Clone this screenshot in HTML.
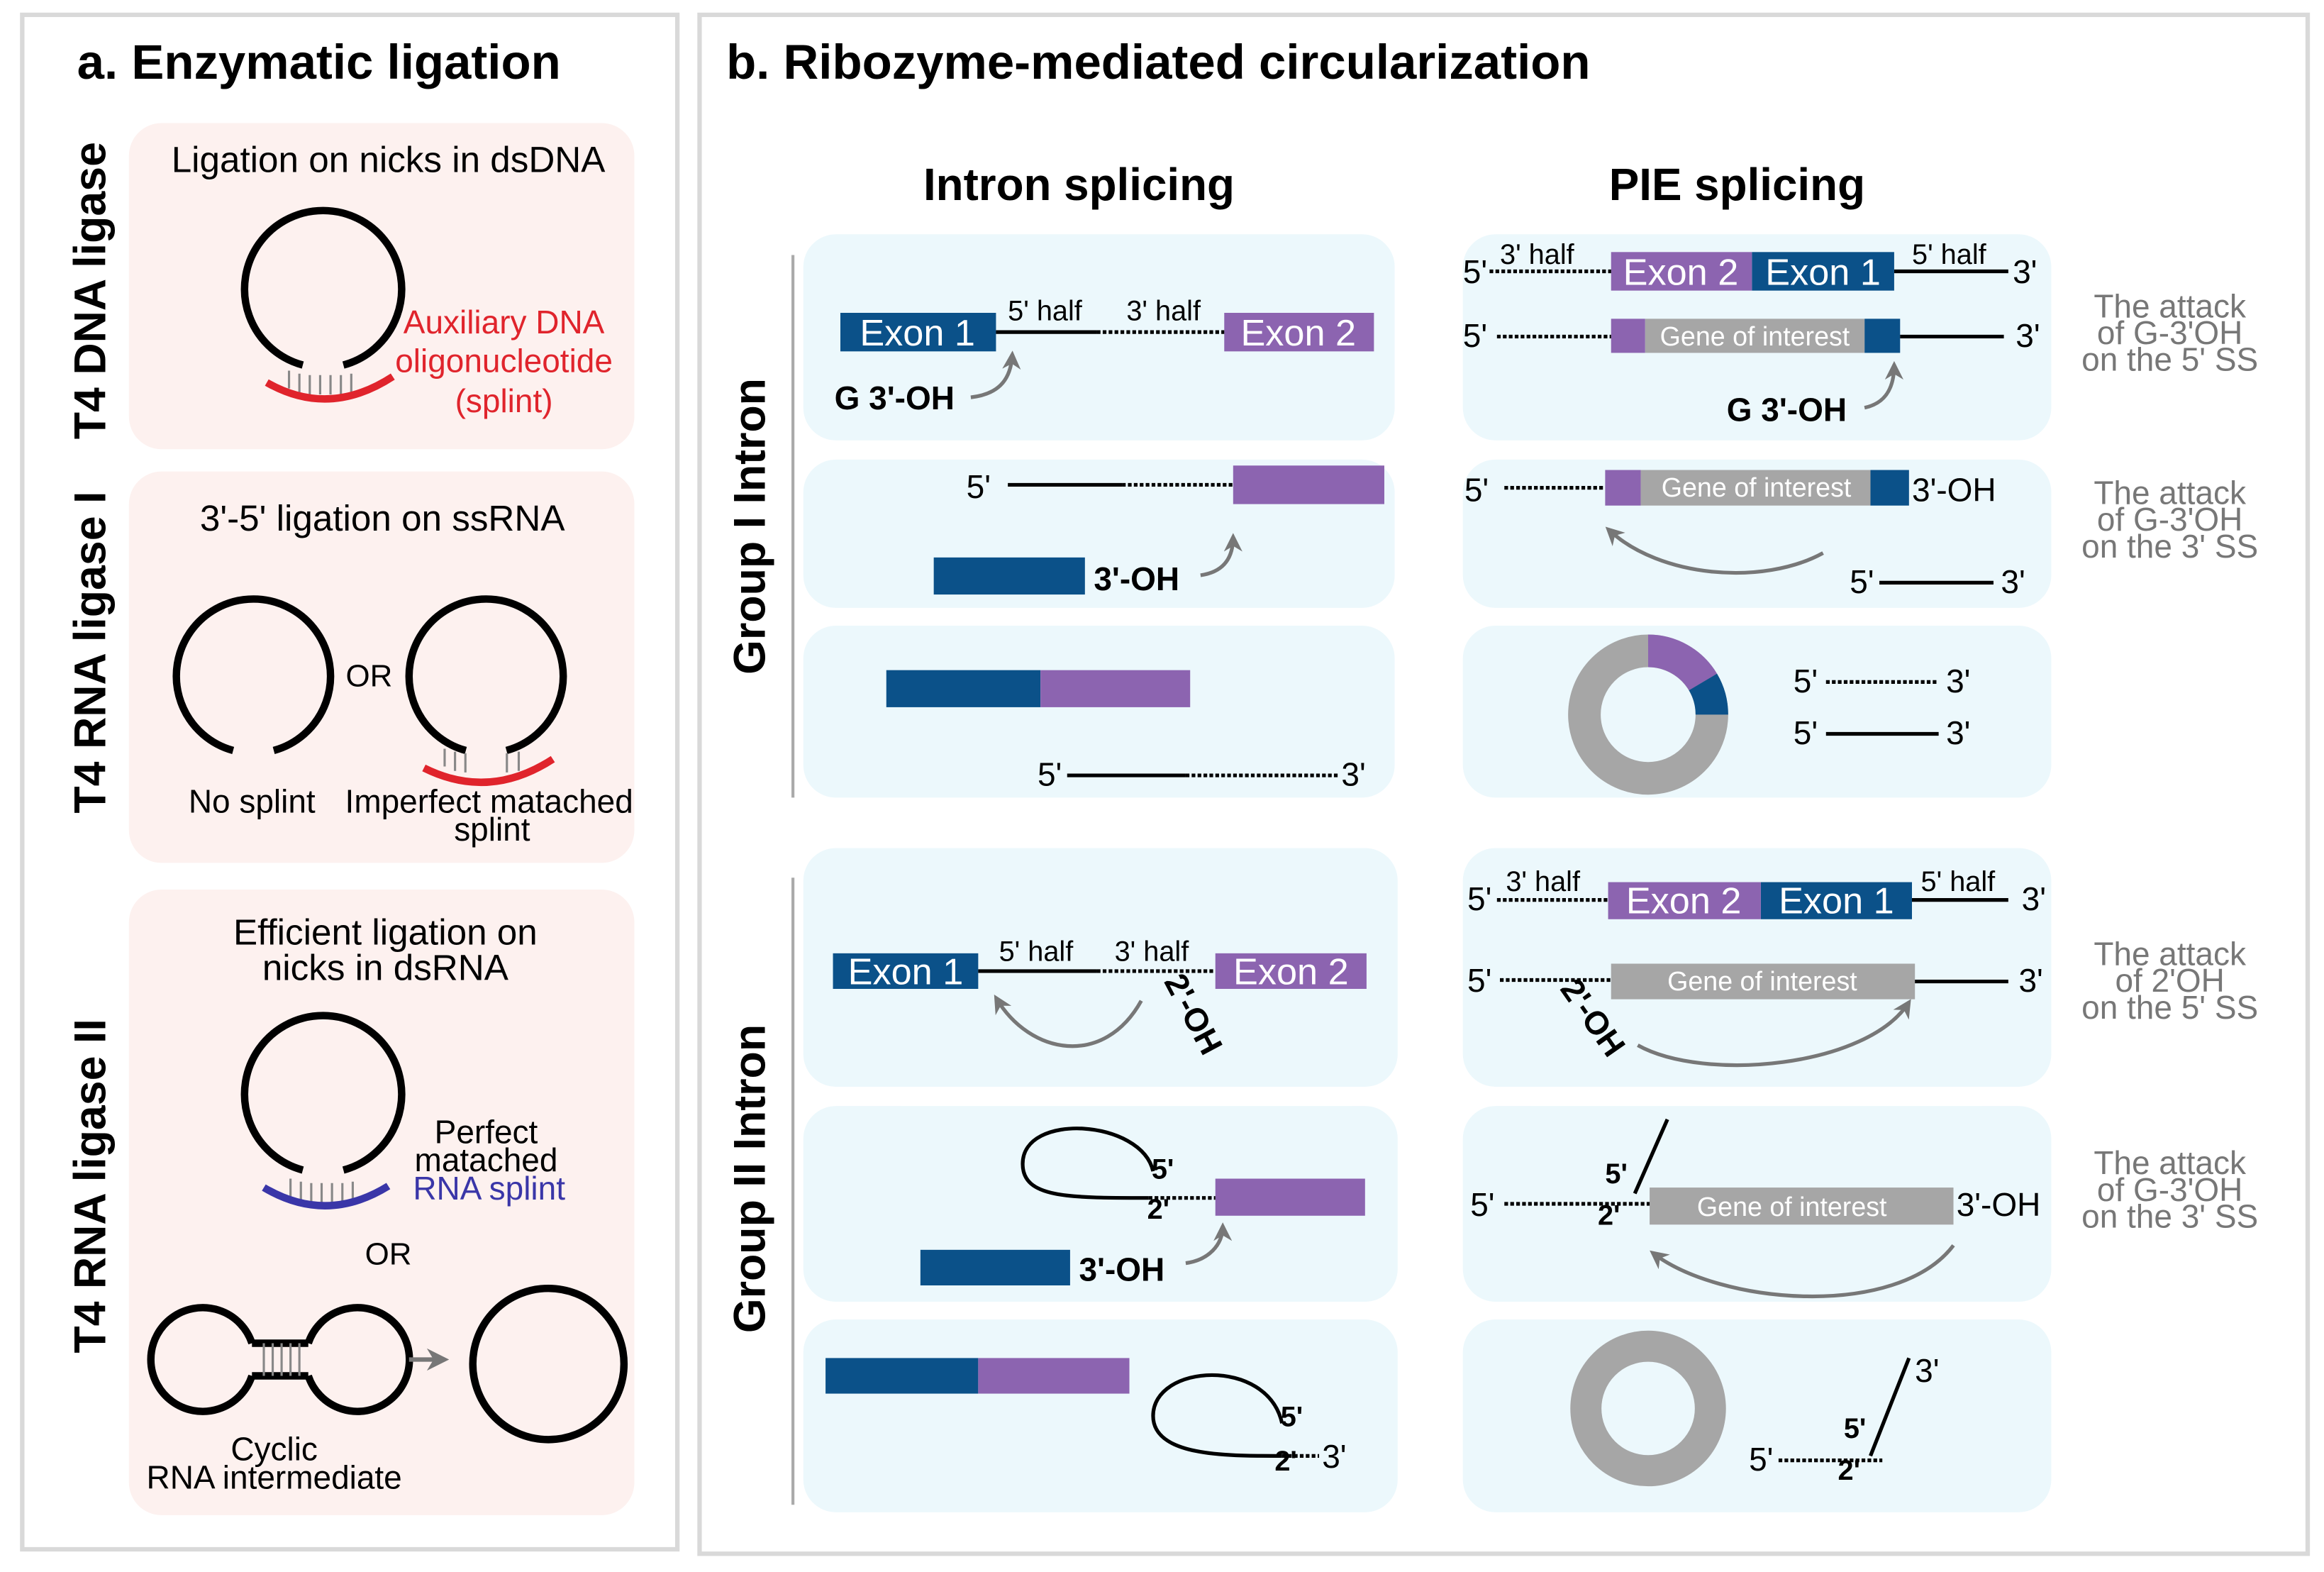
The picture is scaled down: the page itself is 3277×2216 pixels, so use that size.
<!DOCTYPE html>
<html><head><meta charset="utf-8"><style>
html,body{margin:0;padding:0;background:#fff}
svg{display:block}
text{font-family:"Liberation Sans",sans-serif}
</style></head><body>
<svg width="3277" height="2216" viewBox="0 0 1568 1060.3" xmlns="http://www.w3.org/2000/svg">
<defs>
<marker id="ah" viewBox="0 0 10 10" refX="8" refY="5" markerWidth="5" markerHeight="5" orient="auto-start-reverse"><path d="M0,0 L10,5 L0,10 L3,5 Z" fill="#777"/></marker>
</defs>
<rect width="1568" height="1061" fill="#fff"/>
<rect x="15" y="10" width="442" height="1035" fill="none" stroke="#d9d9d9" stroke-width="3"/>
<rect x="472" y="10" width="1085" height="1038" fill="none" stroke="#d9d9d9" stroke-width="3"/>
<text x="52" y="53" font-size="33" font-weight="bold">a. Enzymatic ligation</text>
<text x="490" y="53" font-size="33" font-weight="bold">b. Ribozyme-mediated circularization</text>

<g fill="#fdf1ef">
<rect x="87" y="83" width="341" height="220" rx="22"/>
<rect x="87" y="318" width="341" height="264" rx="22"/>
<rect x="87" y="600" width="341" height="422" rx="22"/>
</g>
<g font-size="30" font-weight="bold" text-anchor="middle">
<text transform="translate(71,196) rotate(-90)">T4 DNA ligase</text>
<text transform="translate(71,440) rotate(-90)">T4 RNA ligase I</text>
<text transform="translate(71,800) rotate(-90)">T4 RNA ligase II</text>
</g>
<g font-size="24.5" text-anchor="middle">
<text x="262" y="116">Ligation on nicks in dsDNA</text>
<text x="258" y="358">3'-5' ligation on ssRNA</text>
<text x="260" y="637">Efficient ligation on</text>
<text x="260" y="661">nicks in dsRNA</text>
<text x="170" y="548" font-size="22">No splint</text>
<text x="330" y="548" font-size="22">Imperfect matached</text>
<text x="332" y="567" font-size="22">splint</text>
<text x="249" y="463" font-size="21">OR</text>
<text x="262" y="853" font-size="21">OR</text>
<text x="328" y="771" font-size="22">Perfect</text>
<text x="328" y="790" font-size="22">matached</text>
<text x="330" y="809" font-size="22" fill="#3a36a8">RNA splint</text>
<text x="185" y="985" font-size="22">Cyclic</text>
<text x="185" y="1004" font-size="22">RNA intermediate</text>
<g fill="#e0242c" font-size="22"><text x="340" y="225">Auxiliary DNA</text><text x="340" y="251">oligonucleotide</text><text x="340" y="278">(splint)</text></g>
</g>
<g fill="none" stroke="#000" stroke-width="5">
<path d="M204.3,246.2 A53,53 0 1,1 231.7,246.2"/>
<path d="M157.3,506.2 A52,52 0 1,1 184.7,506.2"/>
<path d="M314.3,506.2 A52,52 0 1,1 341.7,506.2"/>
<path d="M204.3,789.2 A53,53 0 1,1 231.7,789.2"/>
<circle cx="370" cy="920" r="51"/>
<path d="M170,906 A35,35 0 1,0 170,928 M170,906 L208,906 M170,928 L208,928 M208,906 A35,35 0 1,1 208,928"/>
</g>
<g stroke="#888" stroke-width="1.5">
<path d="M195,250v12M202,252v13M209,253v13M216,253v13M223,253v13M230,253v13M237,252v13"/>
<path d="M300,505v12M307,507v13M314,508v13M342,508v13M350,507v13"/>
<path d="M196,795v12M203,797v13M210,798v13M217,798v13M224,798v13M231,798v13M238,797v13"/>
<path d="M178,906v22M184,906v22M190,906v22M196,906v22M202,906v22"/>
</g>
<path d="M180,258 Q222,282 265,254" fill="none" stroke="#e0242c" stroke-width="5"/>
<path d="M286,518 Q330,540 373,512" fill="none" stroke="#e0242c" stroke-width="5"/>
<path d="M178,801 Q220,826 262,800" fill="none" stroke="#3a36a8" stroke-width="5"/>
<path d="M276,917 L300,917" stroke="#777" stroke-width="3" marker-end="url(#ah)"/>

<text x="728" y="135" font-size="30.5" font-weight="bold" text-anchor="middle">Intron splicing</text>
<text x="1172" y="135" font-size="30.5" font-weight="bold" text-anchor="middle">PIE splicing</text>
<path d="M535,172V538M535,592V1015" stroke="#aaa" stroke-width="2"/>
<g font-size="30" font-weight="bold" text-anchor="middle">
<text transform="translate(516,355) rotate(-90)">Group I Intron</text>
<text transform="translate(516,795) rotate(-90)">Group II Intron</text>
</g>
<g fill="#ecf8fc">
<rect x="542" y="158" width="399" height="139" rx="22"/><rect x="987" y="158" width="397" height="139" rx="22"/>
<rect x="542" y="310" width="399" height="100" rx="22"/><rect x="987" y="310" width="397" height="100" rx="22"/>
<rect x="542" y="422" width="399" height="116" rx="22"/><rect x="987" y="422" width="397" height="116" rx="22"/>
<rect x="542" y="572" width="401" height="161" rx="22"/><rect x="987" y="572" width="397" height="161" rx="22"/>
<rect x="542" y="746" width="401" height="132" rx="22"/><rect x="987" y="746" width="397" height="132" rx="22"/>
<rect x="542" y="890" width="401" height="130" rx="22"/><rect x="987" y="890" width="397" height="130" rx="22"/>
</g>
<g font-size="22" fill="#777" text-anchor="middle">
<text x="1464" y="214">The attack</text><text x="1464" y="232">of G-3'OH</text><text x="1464" y="250">on the 5' SS</text>
<text x="1464" y="340">The attack</text><text x="1464" y="358">of G-3'OH</text><text x="1464" y="376">on the 3' SS</text>
<text x="1464" y="651">The attack</text><text x="1464" y="669">of 2'OH</text><text x="1464" y="687">on the 5' SS</text>
<text x="1464" y="792">The attack</text><text x="1464" y="810">of G-3'OH</text><text x="1464" y="828">on the 3' SS</text>
</g>

<g fill="#0b5189">
<rect x="567" y="211" width="105" height="26"/><rect x="1182" y="170" width="96" height="26"/><rect x="1258" y="215" width="24" height="23"/>
<rect x="630" y="376" width="102" height="25"/><rect x="1262" y="317" width="26" height="24"/>
<rect x="598" y="452" width="104" height="25"/>
<rect x="562" y="643" width="98" height="24"/><rect x="1188" y="595" width="102" height="25"/>
<rect x="621" y="843" width="101" height="24"/>
<rect x="557" y="916" width="103" height="24"/>
</g>
<g fill="#8c64b0">
<rect x="826" y="211" width="101" height="26"/><rect x="1087" y="170" width="95" height="26"/><rect x="1087" y="215" width="23" height="23"/>
<rect x="832" y="314" width="102" height="26"/><rect x="1083" y="317" width="24" height="24"/>
<rect x="702" y="452" width="101" height="25"/>
<rect x="820" y="643" width="102" height="24"/><rect x="1085" y="595" width="103" height="25"/>
<rect x="820" y="795" width="101" height="25"/>
<rect x="660" y="916" width="102" height="24"/>
</g>
<g fill="#a6a6a6">
<rect x="1110" y="215" width="148" height="23"/><rect x="1107" y="317" width="155" height="24"/>
<rect x="1087" y="650" width="205" height="24"/><rect x="1113" y="801" width="205" height="25"/>
</g>
<g fill="#fff" font-size="25" text-anchor="middle">
<text x="619" y="233">Exon 1</text><text x="876" y="233">Exon 2</text>
<text x="1134" y="192">Exon 2</text><text x="1230" y="192">Exon 1</text>
<text x="611" y="664">Exon 1</text><text x="871" y="664">Exon 2</text>
<text x="1136" y="616">Exon 2</text><text x="1239" y="616">Exon 1</text>
</g>
<g fill="#fff" font-size="18" text-anchor="middle">
<text x="1184" y="233">Gene of interest</text><text x="1185" y="335">Gene of interest</text>
<text x="1189" y="668">Gene of interest</text><text x="1209" y="820">Gene of interest</text>
</g>

<g stroke="#000" stroke-width="2.5" fill="none">
<path d="M672,224H740M1278,183H1355M1282,227H1352M680,327H757M1268,393H1345M720,523H800M1232,495H1308M660,655H740M1290,607H1355M1292,662H1355"/>
<path d="M778,790 C770,755 690,750 690,785 C690,808 720,808 775,808"/>
<path d="M865,960 C855,915 778,920 778,955 C778,983 830,982 865,982"/>
<path d="M1103,805 L1125,755M1262,982 L1288,916"/>
</g>
<g stroke="#000" stroke-width="2.5" stroke-dasharray="2.5,1.5" fill="none">
<path d="M740,224H826M1005,183H1087M1010,227H1087M757,327H832M1015,329H1083M800,523H903M1232,460H1308M740,655H820M1010,607H1085M1012,661H1087M775,808H820M1015,812H1113M865,982H890M1200,985H1270"/>
</g>
<circle cx="1112" cy="482" r="43" fill="none" stroke="#a6a6a6" stroke-width="22"/>
<path d="M1112,439 A43,43 0 0,1 1149,460" fill="none" stroke="#8c64b0" stroke-width="22"/>
<path d="M1149,460 A43,43 0 0,1 1155,482" fill="none" stroke="#0b5189" stroke-width="22"/>
<circle cx="1112" cy="950" r="42" fill="none" stroke="#a6a6a6" stroke-width="21"/>

<g stroke="#777" stroke-width="2.5" fill="none" marker-end="url(#ah)">
<path d="M655,268 C672,266 682,258 683,239"/>
<path d="M1258,275 C1272,272 1278,262 1278,246"/>
<path d="M810,388 C824,386 832,378 832,362"/>
<path d="M1230,373 C1190,395 1120,390 1085,357"/>
<path d="M770,675 C745,720 695,712 672,673"/>
<path d="M1105,705 C1150,730 1260,720 1288,676"/>
<path d="M800,852 C815,850 825,840 825,827"/>
<path d="M1318,840 C1280,890 1160,880 1115,845"/>
</g>

<g font-size="19">
<text x="680" y="216">5' half</text><text x="760" y="216">3' half</text>
<text x="1012" y="178">3' half</text><text x="1290" y="178">5' half</text>
<text x="674" y="648">5' half</text><text x="752" y="648">3' half</text>
<text x="1016" y="601">3' half</text><text x="1296" y="601">5' half</text>
</g>
<g font-size="22">
<text x="987" y="191">5'</text><text x="1358" y="191">3'</text>
<text x="987" y="234">5'</text><text x="1360" y="234">3'</text>
<text x="652" y="336">5'</text>
<text x="988" y="338">5'</text><text x="1290" y="338">3'-OH</text>
<text x="1248" y="400">5'</text><text x="1350" y="400">3'</text>
<text x="700" y="530">5'</text><text x="905" y="530">3'</text>
<text x="1210" y="467">5'</text><text x="1313" y="467">3'</text>
<text x="1210" y="502">5'</text><text x="1313" y="502">3'</text>
<text x="990" y="614">5'</text><text x="1364" y="614">3'</text>
<text x="990" y="669">5'</text><text x="1362" y="669">3'</text>
<text x="992" y="820">5'</text><text x="1320" y="820">3'-OH</text>
<text x="892" y="990">3'</text>
<text x="1180" y="992">5'</text><text x="1292" y="932">3'</text>
</g>
<g font-size="22" font-weight="bold">
<text x="563" y="276">G 3'-OH</text><text x="1165" y="284">G 3'-OH</text>
<text x="738" y="398">3'-OH</text><text x="728" y="864">3'-OH</text>
<text transform="translate(785,662) rotate(62)">2'-OH</text>
<text transform="translate(1052,667) rotate(55)">2'-OH</text>
</g>
<g font-size="19" font-weight="bold">
<text x="777" y="795">5'</text><text x="774" y="822">2'</text>
<text x="1083" y="798">5'</text><text x="1078" y="826">2'</text>
<text x="864" y="962">5'</text><text x="860" y="992">2'</text>
<text x="1244" y="970">5'</text><text x="1240" y="998">2'</text>
</g>
</svg>
</body></html>
